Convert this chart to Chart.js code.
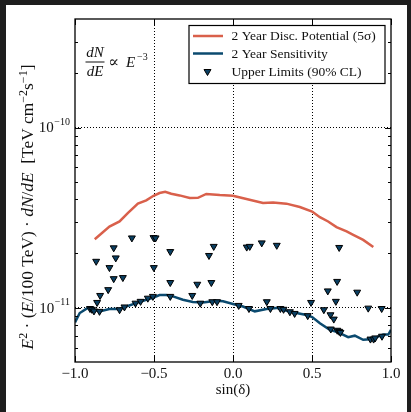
<!DOCTYPE html>
<html>
<head>
<meta charset="utf-8">
<script src="https://cdn.jsdelivr.net/npm/chart.js@4.4.0/dist/chart.umd.min.js"></script>
<style>
html, body { margin: 0; padding: 0; background: #1e1e1e; }
#wrap { position: relative; width: 411px; height: 412px; }
</style>
</head>
<body>
<div id="wrap"><canvas id="myChart"></canvas></div>
<script>
// flux values are in units of 1e-11 TeV cm^-2 s^-1
var UNIT = 1e-11;

var discSin = [-0.875, -0.782, -0.718, -0.666, -0.602, -0.549, -0.503, -0.465, -0.429, -0.391,
    -0.338, -0.274, -0.222, -0.169, -0.084, 0, 0.085, 0.19, 0.254, 0.338,
    0.423, 0.501, 0.55, 0.602, 0.655, 0.719, 0.761, 0.824, 0.888];
var discFlux = [2.40, 2.82, 3.01, 3.35, 3.78, 3.94, 4.18, 4.33, 4.40, 4.29,
    4.20, 4.06, 4.07, 4.28, 4.22, 4.18, 4.01, 3.81, 3.84, 3.78,
    3.62, 3.42, 3.18, 3.01, 2.80, 2.65, 2.54, 2.38, 2.17];

var sensSin = [-1.0, -0.97, -0.919, -0.877, -0.845, -0.782, -0.718, -0.676, -0.612, -0.549,
    -0.503, -0.465, -0.422, -0.38, -0.317, -0.254, -0.19, -0.105, -0.063, 0,
    0.063, 0.138, 0.212, 0.275, 0.338, 0.402, 0.465, 0.501, 0.55, 0.613,
    0.666, 0.729, 0.771, 0.824, 0.867, 0.909, 0.951, 0.983, 1.0];
var sensFlux = [0.83, 0.935, 0.998, 0.975, 0.955, 0.984, 0.984, 1.016, 1.06, 1.107,
    1.14, 1.175, 1.175, 1.156, 1.107, 1.076, 1.07, 1.094, 1.085, 1.05,
    1.016, 0.955, 0.984, 0.998, 0.962, 0.935, 0.912, 0.887, 0.82, 0.755,
    0.73, 0.687, 0.70, 0.664, 0.668, 0.687, 0.71, 0.71, 0.755];

var ulSin = [-0.866, -0.841, -0.860, -0.905, -0.893, -0.88, -0.845, -0.79, -0.782, -0.755,
    -0.742, -0.755, -0.697, -0.718, -0.687, -0.64, -0.617, -0.585, -0.539, -0.503,
    -0.49, -0.501, -0.507, -0.397, -0.397, -0.397, -0.258, -0.226, -0.207, -0.152,
    -0.122, -0.137, -0.131, -0.101, 0.036, 0.101, 0.087, 0.106, 0.182, 0.214,
    0.237, 0.277, 0.30, 0.32, 0.36, 0.39, 0.473, 0.494, 0.575, 0.60,
    0.617, 0.638, 0.619, 0.651, 0.659, 0.672, 0.66, 0.672, 0.68, 0.786,
    0.856, 0.941, 0.87, 0.89, 0.90, 0.943];
var ulFlux = [1.81, 1.17, 1.07, 0.99, 0.98, 0.96, 0.955, 1.26, 1.67, 2.15,
    1.89, 1.45, 1.47, 0.975, 1.01, 2.44, 1.06, 1.085, 1.13, 2.45,
    2.44, 1.67, 1.156, 2.05, 1.38, 1.156, 1.17, 1.35, 1.06, 1.95,
    2.19, 1.38, 1.08, 1.08, 1.03, 0.99, 2.17, 2.19, 2.29, 1.08,
    0.99, 2.22, 0.99, 0.98, 0.95, 0.93, 0.904, 1.07, 0.975, 1.24,
    0.914, 0.865, 0.762, 1.085, 1.40, 2.16, 0.75, 0.74, 0.73, 1.22,
    0.995, 0.99, 0.67, 0.67, 0.68, 0.695];

var xTicks = [-1, -0.5, 0, 0.5, 1];
var yDecades = [1e-11, 1e-10];
var legendLabels = ['2 Year Disc. Potential (5σ)', '2 Year Sensitivity', 'Upper Limits (90% CL)'];

var SERIF = '"Liberation Serif", "DejaVu Serif", serif';
var RED = '#d9604b';
var BLUE = '#0b4a6f';
var MARKER = '#0a3f62';

function points(xs, ys) {
    return xs.map(function (x, i) { return { x: x, y: ys[i] * UNIT }; });
}

// draws text made of pieces: n = normal, i = italic, s = superscript
function segFont(kind, size) {
    if (kind === 'i') return 'italic ' + size + 'px ' + SERIF;
    if (kind === 's') return Math.round(size * 0.68) + 'px ' + SERIF;
    return size + 'px ' + SERIF;
}
function richWidth(c, segs, size) {
    var w = 0;
    segs.forEach(function (s) {
        c.font = segFont(s[1], size);
        w += c.measureText(s[0]).width;
    });
    return w;
}
function drawRich(c, segs, x, y, size) {
    c.textAlign = 'left';
    c.textBaseline = 'alphabetic';
    segs.forEach(function (s) {
        c.font = segFont(s[1], size);
        c.fillText(s[0], x, s[1] === 's' ? y - size * 0.35 : y);
        x += c.measureText(s[0]).width;
    });
}

var yTitle = [['E', 'i'], ['2', 's'], [' · (', 'n'], ['E', 'i'], ['/100 TeV) · ', 'n'], ['dN', 'i'], ['/', 'n'], ['dE', 'i'],
    ['  [TeV cm', 'n'], ['−2', 's'], ['s', 'n'], ['−1', 's'], [']', 'n']];

var paper = {
    id: 'paper',
    beforeDraw: function (chart) {
        var c = chart.ctx;
        c.save();
        c.fillStyle = '#1e1e1e';
        c.fillRect(0, 0, chart.width, chart.height);
        c.fillStyle = '#ffffff';
        c.fillRect(6, 5, 401, chart.height - 5);
        c.restore();
    }
};

var frame = {
    id: 'frame',
    afterDatasetsDraw: function (chart) {
        var c = chart.ctx, a = chart.chartArea, xs = chart.scales.x, ys = chart.scales.y;
        c.save();
        c.strokeStyle = '#000';
        c.lineWidth = 1;
        c.beginPath();
        for (var e = -12; e <= -10; e++) {
            for (var m = 1; m <= 9; m++) {
                var v = m * Math.pow(10, e);
                if (v <= ys.min * 1.001 || v >= ys.max * 0.999) continue;
                var py = Math.round(ys.getPixelForValue(v)) + 0.5;
                var len = m === 1 ? 6 : 3;
                c.moveTo(a.left, py); c.lineTo(a.left + len, py);
                c.moveTo(a.right, py); c.lineTo(a.right - len, py);
            }
        }
        xTicks.forEach(function (t) {
            var px = Math.round(xs.getPixelForValue(t)) + 0.5;
            c.moveTo(px, a.bottom); c.lineTo(px, a.bottom - 6);
            c.moveTo(px, a.top); c.lineTo(px, a.top + 6);
        });
        c.stroke();
        c.lineWidth = 1.3;
        c.strokeRect(a.left, a.top, a.right - a.left, a.bottom - a.top);

        // y tick labels 10^n
        c.fillStyle = '#111';
        yDecades.forEach(function (v) {
            var py = ys.getPixelForValue(v);
            var exp = '−' + Math.abs(Math.round(Math.log10(v)));
            c.textAlign = 'right';
            c.textBaseline = 'middle';
            c.font = '10px ' + SERIF;
            var supW = c.measureText(exp).width;
            c.fillText(exp, a.left - 5, py - 5);
            c.font = '15px ' + SERIF;
            c.fillText('10', a.left - 5.5 - supW, py + 1);
        });

        // y axis title
        var size = 15;
        var w = richWidth(c, yTitle, size);
        size = size * 284 / w;
        w = richWidth(c, yTitle, size);
        c.translate(33, 207);
        c.rotate(-Math.PI / 2);
        drawRich(c, yTitle, -w / 2, 0, size);
        c.restore();
    }
};

var legendBox = {
    id: 'legendBox',
    afterDatasetsDraw: function (chart) {
        var c = chart.ctx, a = chart.chartArea;
        var bw = 196, bh = 58;
        var bx = a.right - 6 - bw, by = a.top + 6.5;
        c.save();
        c.fillStyle = '#fff';
        c.fillRect(bx, by, bw, bh);
        c.strokeStyle = '#000';
        c.lineWidth = 1.2;
        c.strokeRect(bx, by, bw, bh);
        var rows = [by + 10.5, by + 28, by + 46];
        var colors = [RED, BLUE];
        c.lineWidth = 2.5;
        for (var i = 0; i < 2; i++) {
            c.strokeStyle = colors[i];
            c.beginPath();
            c.moveTo(bx + 4, rows[i]);
            c.lineTo(bx + 34, rows[i]);
            c.stroke();
        }
        // marker
        var mx = bx + 18.5, my = rows[2], r = 4;
        c.beginPath();
        c.moveTo(mx - r * 0.87, my - r * 0.5);
        c.lineTo(mx + r * 0.87, my - r * 0.5);
        c.lineTo(mx, my + r);
        c.closePath();
        c.fillStyle = MARKER;
        c.fill();
        c.strokeStyle = '#000';
        c.lineWidth = 1;
        c.stroke();

        c.fillStyle = '#111';
        c.font = '13.5px ' + SERIF;
        c.textAlign = 'left';
        c.textBaseline = 'middle';
        legendLabels.forEach(function (t, k) {
            c.fillText(t, bx + 42.5, rows[k] + 0.5);
        });

        // dN/dE ∝ E^-3
        c.font = 'italic 15px ' + SERIF;
        c.textAlign = 'center';
        c.textBaseline = 'middle';
        c.fillText('dN', a.left + 20, a.top + 34);
        c.fillText('dE', a.left + 20, a.top + 53);
        c.fillRect(a.left + 10.5, a.top + 42.5, 19, 1);
        c.textAlign = 'left';
        c.font = '16px ' + SERIF;
        c.fillText('∝', a.left + 33, a.top + 44);
        c.font = 'italic 15px ' + SERIF;
        c.fillText('E', a.left + 51, a.top + 44);
        c.font = '10px ' + SERIF;
        c.fillText('−3', a.left + 62, a.top + 38);
        c.restore();
    }
};

var ctx = document.getElementById('myChart');
var myChart = new Chart(ctx, {
    type: 'line',
    data: {
        datasets: [{
            label: legendLabels[2],
            data: points(ulSin, ulFlux),
            showLine: false,
            pointStyle: 'triangle',
            rotation: 180,
            pointRadius: 4,
            pointBackgroundColor: MARKER,
            pointBorderColor: '#000',
            pointBorderWidth: 1,
            order: 0
        }, {
            label: legendLabels[1],
            data: points(sensSin, sensFlux),
            borderColor: BLUE,
            borderWidth: 2.5,
            pointRadius: 0,
            tension: 0,
            order: 1
        }, {
            label: legendLabels[0],
            data: points(discSin, discFlux),
            borderColor: RED,
            borderWidth: 2.5,
            pointRadius: 0,
            tension: 0,
            order: 2
        }]
    },
    options: {
        responsive: true,
        maintainAspectRatio: false,
        animation: false,
        layout: { padding: { top: 19, right: 20, left: 0, bottom: 0 } },
        plugins: { legend: { display: false }, tooltip: { enabled: false } },
        scales: {
            x: {
                type: 'linear',
                min: -1,
                max: 1,
                afterBuildTicks: function (s) { s.ticks = xTicks.map(function (v) { return { value: v }; }); },
                afterFit: function (s) { s.height = 50; },
                ticks: {
                    font: { family: SERIF, size: 15 },
                    color: '#111',
                    padding: 3,
                    maxRotation: 0,
                    callback: function (v) { return Number(v).toFixed(1).replace('-', '−'); }
                },
                grid: {
                    drawTicks: false,
                    lineWidth: 1,
                    color: function (c) {
                        return c.tick && Math.abs(c.tick.value) < 0.99 ? '#000' : 'rgba(0,0,0,0)';
                    }
                },
                border: { display: false, dash: [1, 2] },
                title: {
                    display: true,
                    text: 'sin(δ)',
                    font: { family: SERIF, size: 15 },
                    color: '#111',
                    padding: { top: 0, bottom: 13 }
                }
            },
            y: {
                type: 'logarithmic',
                min: 5e-12,
                max: 4e-10,
                afterBuildTicks: function (s) { s.ticks = yDecades.map(function (v) { return { value: v }; }); },
                afterFit: function (s) { s.width = 75; },
                ticks: { display: false },
                grid: { drawTicks: false, color: '#000', lineWidth: 1 },
                border: { display: false, dash: [1, 2] }
            }
        }
    },
    plugins: [paper, frame, legendBox]
});
</script>
</body>
</html>
